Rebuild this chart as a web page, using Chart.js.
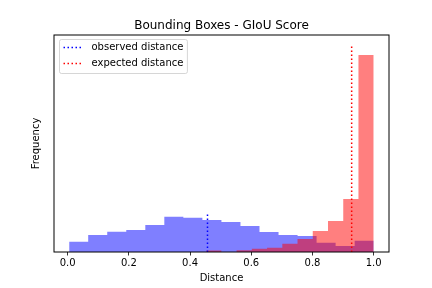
<!DOCTYPE html>
<html>
<head>
<meta charset="utf-8">
<script src="https://cdn.jsdelivr.net/npm/chart.js@4"></script>
<style>
  body { margin: 0; background: #fff; }
</style>
</head>
<body>
<canvas id="giouChart" width="432" height="288"></canvas>
<script>
// histogram bin edges (distance) and heights (frequency, arbitrary units)
const observedEdges = [0.005, 0.0672, 0.1294, 0.1916, 0.2538, 0.3159, 0.3781, 0.4403, 0.5025,
    0.5647, 0.6269, 0.6891, 0.7513, 0.8134, 0.8756, 0.9378, 1.0];
const observedCounts = [10.3, 17, 20.3, 22, 27, 35.3, 34.3, 32, 30, 26, 20, 17, 16, 9.3, 6, 11.3];

const expectedEdges = [0.4525, 0.5023, 0.5520, 0.6018, 0.6516, 0.7014, 0.7511, 0.8009, 0.8507,
    0.9005, 0.9502, 1.0];
const expectedCounts = [1.5, 0, 1.8, 3.3, 4.3, 8.3, 13, 21, 31, 53, 197];

// mean distances (vertical dotted lines) and their heights
const observedMean = 0.457;
const observedLineTop = 37.5;
const expectedMean = 0.928;
const expectedLineTop = 207;

const xTicks = [0.0, 0.2, 0.4, 0.6, 0.8, 1.0];
const xMin = -0.0445;
const xMax = 1.05;
const yMax = 217;

// each bin becomes a flat top from its left to its right edge, filled down to zero
function histPoints(edges, counts) {
    const pts = [];
    counts.forEach((c, i) => {
        pts.push({ x: edges[i], y: c });
        pts.push({ x: edges[i + 1], y: c });
    });
    return pts;
}

Chart.defaults.font.family = '"DejaVu Sans", sans-serif';
Chart.defaults.font.size = 10;
Chart.defaults.color = '#000';

// box around the plot area, like matplotlib spines
const frameBox = {
    id: 'frameBox',
    afterDatasetsDraw(chart) {
        const { ctx, chartArea: a } = chart;
        ctx.save();
        ctx.strokeStyle = '#000';
        ctx.lineWidth = 1;
        ctx.strokeRect(a.left, a.top, a.right - a.left, a.bottom - a.top);
        ctx.restore();
    }
};

// legend inside the axes, top left, only for the dotted lines
const innerLegend = {
    id: 'innerLegend',
    afterDraw(chart) {
        const { ctx, chartArea: a } = chart;
        const items = chart.data.datasets.filter(d => d.showInLegend);
        ctx.save();
        ctx.font = '10px "DejaVu Sans"';
        const textW = Math.max(...items.map(d => ctx.measureText(d.label).width));
        const x0 = a.left + 5.5;
        const y0 = a.top + 4.5;
        const w = 4 + 20 + 8 + textW + 4;
        const h = 34;
        ctx.beginPath();
        ctx.roundRect(x0, y0, w, h, 2);
        ctx.fillStyle = 'rgba(255,255,255,0.8)';
        ctx.fill();
        ctx.strokeStyle = 'rgba(204,204,204,0.8)';
        ctx.lineWidth = 1;
        ctx.stroke();
        items.forEach((d, i) => {
            const cy = y0 + 8 + i * 16;
            ctx.beginPath();
            ctx.setLineDash(d.borderDash);
            ctx.strokeStyle = d.borderColor;
            ctx.lineWidth = d.borderWidth;
            ctx.moveTo(x0 + 4, cy);
            ctx.lineTo(x0 + 24, cy);
            ctx.stroke();
            ctx.setLineDash([]);
            ctx.fillStyle = '#000';
            ctx.textBaseline = 'middle';
            ctx.fillText(d.label, x0 + 32, cy);
        });
        ctx.restore();
    }
};

new Chart(document.getElementById('giouChart'), {
    type: 'line',
    data: {
        datasets: [
            {
                label: 'observed distance',
                showInLegend: true,
                data: [{ x: observedMean, y: 0 }, { x: observedMean, y: observedLineTop }],
                borderColor: 'blue',
                borderWidth: 1.5,
                borderDash: [1.5, 2.5],
                pointRadius: 0,
                fill: false,
                order: 0
            },
            {
                label: 'expected distance',
                showInLegend: true,
                data: [{ x: expectedMean, y: 0 }, { x: expectedMean, y: expectedLineTop }],
                borderColor: 'red',
                borderWidth: 1.5,
                borderDash: [1.5, 2.5],
                pointRadius: 0,
                fill: false,
                order: 0
            },
            {
                label: 'expected',
                data: histPoints(expectedEdges, expectedCounts),
                backgroundColor: 'rgba(255,0,0,0.5)',
                borderColor: 'rgba(0,0,0,0)',
                borderWidth: 0,
                pointRadius: 0,
                fill: 'origin',
                order: 1
            },
            {
                label: 'observed',
                data: histPoints(observedEdges, observedCounts),
                backgroundColor: 'rgba(0,0,255,0.5)',
                borderColor: 'rgba(0,0,0,0)',
                borderWidth: 0,
                pointRadius: 0,
                fill: 'origin',
                order: 2
            }
        ]
    },
    options: {
        responsive: false,
        animation: false,
        layout: { padding: { left: 24, right: 43, top: 0, bottom: 0 } },
        plugins: {
            legend: { display: false },
            tooltip: { enabled: false },
            title: {
                display: true,
                text: 'Bounding Boxes - GIoU Score',
                fullSize: false,
                font: { size: 12, weight: 'normal' },
                color: '#000',
                padding: { top: 18.5, bottom: 2.1 }
            }
        },
        scales: {
            x: {
                type: 'linear',
                min: xMin,
                max: xMax,
                offset: false,
                afterBuildTicks: axis => { axis.ticks = xTicks.map(v => ({ value: v })); },
                ticks: {
                    padding: 2.3,
                    maxRotation: 0,
                    callback: v => v.toFixed(1)
                },
                grid: {
                    offset: false,
                    drawOnChartArea: false,
                    drawTicks: true,
                    tickLength: 3.5,
                    tickColor: '#000',
                    tickWidth: 0.8
                },
                border: { display: false },
                title: {
                    display: true,
                    text: 'Distance',
                    padding: { top: 0.4, bottom: 3.5 }
                }
            },
            y: {
                type: 'linear',
                min: 0,
                max: yMax,
                ticks: { display: false },
                grid: { display: false, drawTicks: false },
                border: { display: false },
                title: {
                    display: true,
                    text: 'Frequency',
                    padding: { top: 6.5, bottom: 11.5 }
                }
            }
        }
    },
    plugins: [frameBox, innerLegend]
});
</script>
</body>
</html>
